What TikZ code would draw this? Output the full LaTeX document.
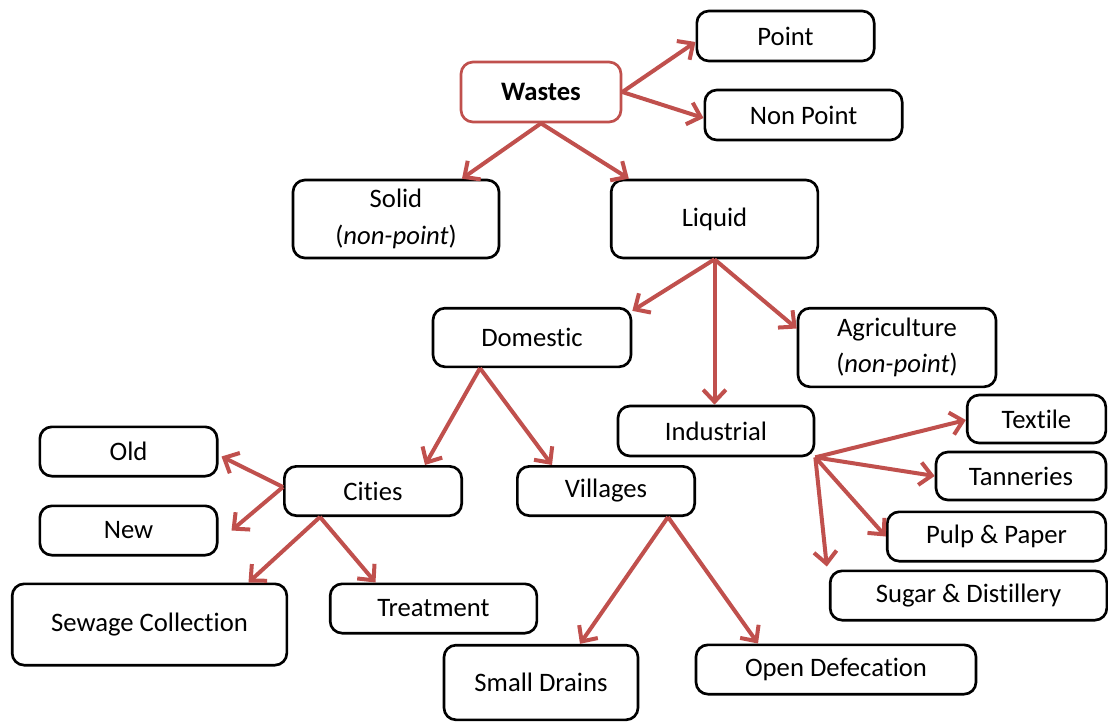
\documentclass[tikz,border=0pt]{standalone}
\usepackage{fontspec}
\setmainfont{Carlito}[Ligatures=NoCommon]
\usetikzlibrary{arrows.meta,calc}
\definecolor{arrowred}{HTML}{C0504D}

\begin{document}
\begin{tikzpicture}[x=0.75pt,y=-0.75pt,
    box/.style={draw=black,line width=2pt,rounded corners=9pt,fill=white,
      align=center,inner sep=0pt,font=\fontsize{20}{27.5}\selectfont},
    link/.style={draw=arrowred,line width=3pt,-{Straight Barb[length=9pt,width=17pt]}}]
    \useasboundingbox (0,0) rectangle (1108,722);
    % top levels
    \node[box,draw=arrowred,minimum width=120pt,minimum height=45pt] (wastes) at (541,92) {\textbf{Wastes}};
    \node[box,minimum width=133pt,minimum height=37.5pt] (point) at (785.5,36) {Point};
    \node[box,minimum width=148pt,minimum height=37.5pt] (nonpoint) at (803.5,115) {Non Point};
    \node[box,minimum width=154.5pt,minimum height=58.5pt] (solid) at (396,219) {Solid\\(\textit{non-point})};
    \node[box,minimum width=155pt,minimum height=58.5pt] (liquid) at (714.5,219) {Liquid};
    % liquid wastes
    \node[box,minimum width=148.5pt,minimum height=44pt] (domestic) at (532,337.5) {Domestic};
    \node[box,minimum width=148.5pt,minimum height=59pt] (agri) at (897,347.5) {Agriculture\\(\textit{non-point})};
    \node[box,minimum width=147pt,minimum height=37.5pt] (industrial) at (716,431) {Industrial};
    % industries
    \node[box,minimum width=104pt,minimum height=36pt] (textile) at (1036.5,419) {Textile};
    \node[box,minimum width=127.5pt,minimum height=36pt] (tanneries) at (1021,476) {Tanneries};
    \node[box,minimum width=164pt,minimum height=37pt] (pulp) at (996.5,536.5) {Pulp \& Paper};
    \node[box,minimum width=207.5pt,minimum height=37pt] (sugar) at (968.5,595.5) {Sugar \& Distillery};
    % domestic
    \node[box,minimum width=133pt,minimum height=37pt] (cities) at (373,491) {Cities};
    \node[box,minimum width=133pt,minimum height=37pt] (villages) at (606,491) {Villages};
    \node[box,minimum width=133pt,minimum height=37pt] (old) at (128.5,451.5) {Old};
    \node[box,minimum width=133pt,minimum height=37pt] (new) at (128.5,530.5) {New};
    \node[box,minimum width=206pt,minimum height=61pt] (sewage) at (149.5,624.5) {Sewage Collection};
    \node[box,minimum width=155pt,minimum height=37pt] (treatment) at (433.5,608.5) {Treatment};
    \node[box,minimum width=145.5pt,minimum height=56pt] (drains) at (541,682.5) {Small Drains};
    \node[box,minimum width=210pt,minimum height=37pt] (defecation) at (836,669.5) {Open Defecation};

    \draw[link] (wastes.east) -- ($(point.west)+(0,6)$);
    \draw[link] (wastes.east) -- ($(nonpoint.west)+(0,3)$);
    \draw[link] (wastes.south) -- ($(solid.north)+(66,0)$);
    \draw[link] (wastes.south) -- ($(liquid.north west)+(19,0)$);
    \draw[link] (liquid.south) -- ($(domestic.north east)+(0,4)$);
    \draw[link] (liquid.south) -- (liquid.south |- industrial.north);
    \draw[link] (liquid.south) -- ($(agri.west)+(0,-19)$);
    \coordinate (dsrc) at ($(domestic.south)+(-52,0)$);
    \draw[link] (dsrc) -- ($(cities.north)+(52,0)$);
    \draw[link] (dsrc) -- ($(villages.north)+(-54,0)$);
    \draw[link] ($(cities.west)+(0,-4)$) -- ($(old.east)+(3,5)$);
    \draw[link] ($(cities.west)+(0,-4)$) -- ($(new.east)+(13,0)$);
    \coordinate (csrc) at ($(cities.south)+(-53,0)$);
    \draw[link] (csrc) -- ($(sewage.north)+(99,0)$);
    \draw[link] (csrc) -- ($(treatment.north)+(-58,0)$);
    \coordinate (vsrc) at ($(villages.south)+(62,0)$);
    \draw[link] (vsrc) -- ($(drains.north)+(39,0)$);
    \draw[link] (vsrc) -- ($(defecation.north)+(-78,0)$);
    \draw[link] (industrial.south east) -- ($(textile.west)+(0,1)$);
    \draw[link] (industrial.south east) -- (tanneries.west);
    \draw[link] (industrial.south east) -- (pulp.west);
    \draw[link] (industrial.south east) -- ($(sugar.north west)+(-2,-3)$);
\end{tikzpicture}
\end{document}
